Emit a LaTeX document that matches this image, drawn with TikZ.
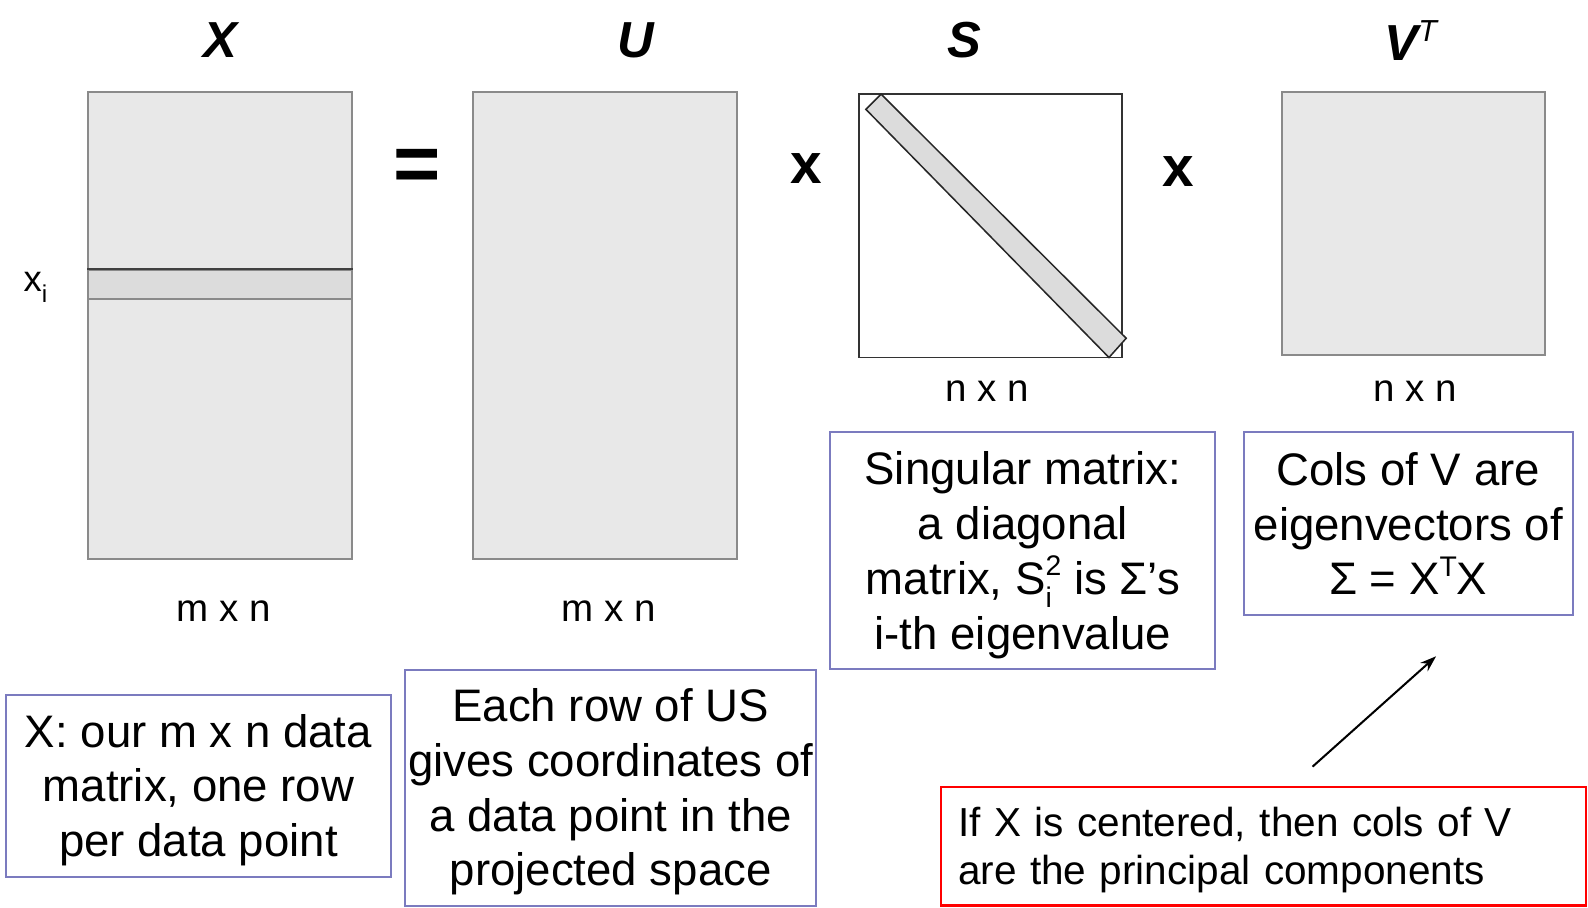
\documentclass[tikz,border=0pt]{standalone}
\usepackage{fontspec}
\setmainfont{Liberation Sans}
\usetikzlibrary{arrows.meta}
\definecolor{matfill}{HTML}{E8E8E8}
\definecolor{matdraw}{HTML}{8A8A8A}
\definecolor{bandfill}{HTML}{DCDCDC}
\definecolor{blueb}{HTML}{7B7BBF}
\definecolor{redb}{HTML}{FF0000}
\newcommand{\fs}[1]{\fontsize{#1}{#1}\selectfont}
\newcommand{\dn}{\rule{0pt}{41pt}}
\tikzset{
  mat/.style={draw=matdraw, fill=matfill, line width=2pt, inner sep=0pt, rectangle},
  title/.style={font=\fs{50}\bfseries\itshape, inner sep=0pt},
  op/.style={font=\fs{56}\bfseries, inner sep=0pt},
  dim/.style={font=\fs{38}, inner sep=0pt},
  note/.style={draw=blueb, line width=2pt, inner sep=0pt, align=center, font=\fontsize{45}{54}\selectfont},
  rnote/.style={draw=redb, line width=2.5pt, inner xsep=17pt, inner ysep=0pt, align=left, font=\fontsize{40}{47}\selectfont},
}
\begin{document}
\begin{tikzpicture}[x=1pt,y=-1pt]
\useasboundingbox (0,0) rectangle (1568,896);
% titles
\node[title] (tX) at (218,40) {X};
\node[title] (tU) at (628,40) {U};
\node[title] (tS) at (952,40) {S};
\node[title] (tV) at (1393,40) {V\raisebox{0.38em}{\fs{30}\mdseries T}};
% X matrix
\node[mat, minimum width=261pt, minimum height=461pt] (X) at (217.5,321.5) {};
\node[draw=matdraw, fill=bandfill, line width=2pt, inner sep=0pt, minimum width=261pt, minimum height=28pt] (Xi) at (217.5,281) {};
\draw[line width=2pt, color=black!75] (Xi.north west) -- (Xi.north east);
\node[font=\fs{36}, inner sep=0pt] (xi) at (35,284) {x\raisebox{-0.3em}{\fs{24}i}};
% equals
\node[op, font=\fs{80}\bfseries] (eq) at (412,168) {=};
% U matrix
\node[mat, minimum width=261pt, minimum height=461pt] (U) at (597.5,321.5) {};
% times
\node[op] (t1) at (796,166) {x};
% S matrix
\node[draw=black!80, fill=white, line width=1.5pt, inner sep=0pt, minimum width=260pt, minimum height=260pt] (S) at (978,223) {};
\draw[draw=black!85, fill=bandfill, line width=1.5pt] (855,108) -- (870,93) -- (1112,334) -- (1095,353) -- cycle;
\node[op] (t2) at (1163,169) {x};
% V matrix
\node[mat, minimum width=260pt, minimum height=260pt] (V) at (1396,221) {};
% dims
\node[dim] (dX) at (221,603) {m x n};
\node[dim] (dU) at (601,603) {m x n};
\node[dim] (dS) at (975,386) {n x n};
\node[dim] (dV) at (1397,386) {n x n};
% notes
\node[note, minimum width=380pt, minimum height=180pt] (n1) at (196,776) {\dn X: our m x n data\\matrix, one row\\per data point};
\node[note, minimum width=406pt, minimum height=233pt] (n2) at (603,778) {\dn Each row of US\\gives coordinates of\\a data point in the\\projected space};
\node[note, minimum width=380pt, minimum height=234pt] (n3) at (1010,544) {\dn Singular matrix:\\a diagonal\\matrix, S\rlap{\raisebox{-0.3em}{\fs{28}i}}\raisebox{0.42em}{\fs{28}2} is Σ’s\\i-th eigenvalue};
\node[note, minimum width=325pt, minimum height=180pt] (n4) at (1390.5,517) {Cols of V are\\eigenvectors of\\Σ = X\raisebox{0.4em}{\fs{28}T}X};
\node[rnote, minimum width=637pt, minimum height=117pt, text width=603pt] (n5) at (1247.5,835.5) {\rule{0pt}{37pt}If X is centered, then cols of V\\are the principal components};
% arrow
\coordinate (a0) at (1296,757);
\coordinate (a1) at (1418,648);
\draw[line width=2pt, -{Stealth[length=16pt,width=11pt]}] (a0) -- (a1);
\end{tikzpicture}
\end{document}
